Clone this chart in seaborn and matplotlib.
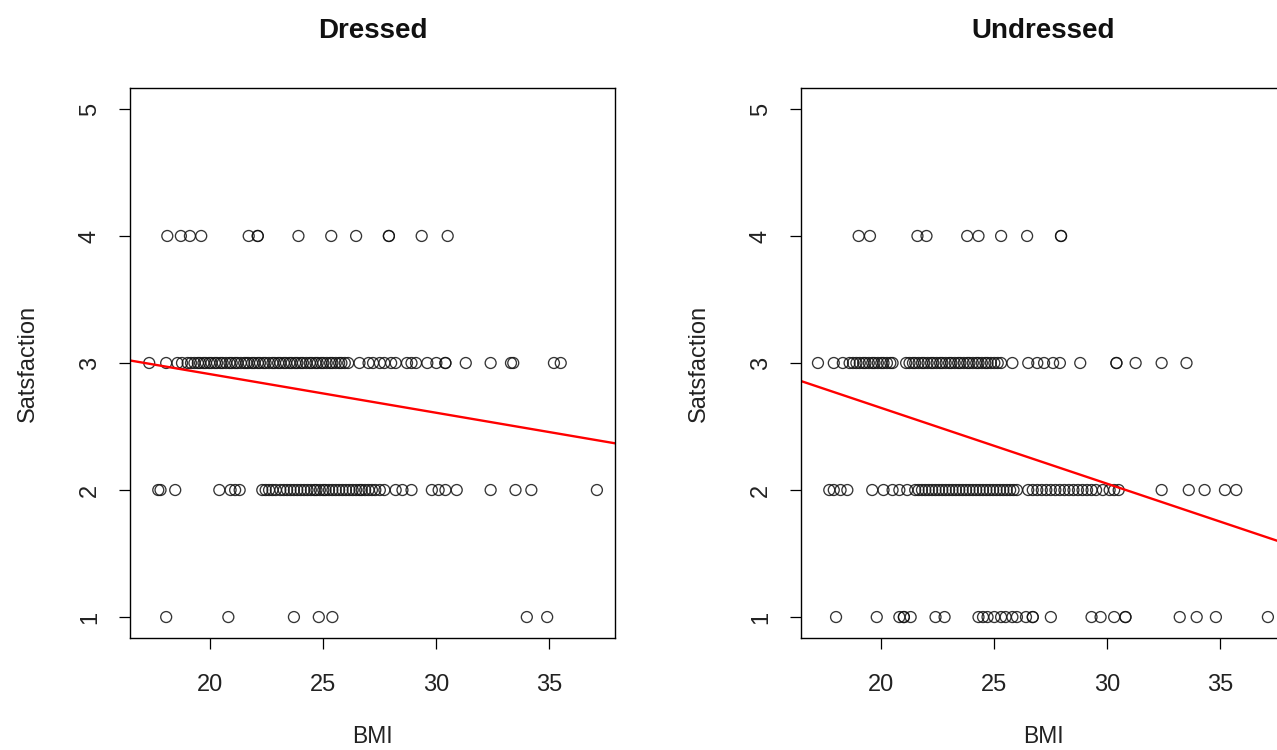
import matplotlib
matplotlib.use("Agg")
import matplotlib.pyplot as plt
import seaborn as sns
import pandas as pd

# ---------------- data ----------------
dressed_s4 = [18.1, 18.7, 19.1, 19.6, 21.7, 22.1, 22.1, 23.9, 25.35, 26.45, 27.9, 27.9, 29.35, 30.5]
dressed_s3 = [17.3, 18.05, 18.55, 18.75, 19.0, 19.15, 19.3, 19.45, 19.55, 19.7, 19.8, 19.95, 20.05,
              20.2, 20.3, 20.45, 20.55, 20.7, 20.85, 20.95, 21.1, 21.2, 21.35, 21.5, 21.6, 21.7,
              21.85, 21.95, 22.1, 22.2, 22.35, 22.45, 22.6, 22.75, 22.85, 23.0, 23.1, 23.25, 23.35,
              23.5, 23.6, 23.75, 23.85, 24.0, 24.1, 24.25, 24.4, 24.5, 24.65, 24.75, 24.9, 25.0,
              25.15, 25.3, 25.4, 25.55, 25.7, 25.8, 25.95, 26.1, 26.6, 27.0, 27.2, 27.5, 27.7, 28.0,
              28.2, 28.7, 28.9, 29.1, 29.6, 30.0, 30.4, 30.4, 31.3, 32.4, 33.3, 33.4, 35.2, 35.5]
dressed_s2 = [17.7, 17.8, 18.45, 20.4, 20.9, 21.1, 21.3, 22.3, 22.45, 22.6, 22.75, 22.9, 23.1,
              23.25, 23.4, 23.55, 23.7, 23.85, 24.0, 24.15, 24.3, 24.45, 24.6, 24.7, 24.85, 25.0,
              25.1, 25.25, 25.4, 25.55, 25.7, 25.85, 26.0, 26.15, 26.3, 26.45, 26.6, 26.7, 26.85,
              27.0, 27.15, 27.3, 27.5, 27.7, 28.2, 28.5, 28.9, 29.8, 30.1, 30.4, 30.9, 32.4, 33.5,
              34.2, 37.1]
dressed_s1 = [18.05, 20.8, 23.7, 24.8, 25.4, 34.0, 34.9]

undressed_s4 = [19.0, 19.5, 21.6, 22.0, 23.8, 24.3, 25.3, 26.45, 27.95, 27.95]
undressed_s3 = [17.2, 17.9, 18.3, 18.6, 18.75, 18.9, 19.05, 19.2, 19.3, 19.45, 19.6, 19.7, 19.85,
                20.0, 20.1, 20.25, 20.4, 20.5, 21.1, 21.25, 21.4, 21.5, 21.65, 21.8, 21.9, 22.05,
                22.2, 22.3, 22.45, 22.6, 22.7, 22.85, 23.0, 23.1, 23.25, 23.4, 23.5, 23.65, 23.8,
                23.9, 24.05, 24.2, 24.3, 24.45, 24.6, 24.7, 24.85, 25.0, 25.15, 25.3, 25.8, 26.5,
                26.9, 27.2, 27.6, 27.9, 28.8, 30.4, 30.4, 31.25, 32.4, 33.5]
undressed_s2 = [17.7, 17.9, 18.2, 18.5, 19.6, 20.1, 20.5, 20.8, 21.15, 21.5, 21.65, 21.8, 21.95,
                22.1, 22.25, 22.4, 22.55, 22.7, 22.85, 23.0, 23.15, 23.3, 23.45, 23.6, 23.75, 23.9,
                24.05, 24.2, 24.35, 24.5, 24.65, 24.8, 24.95, 25.1, 25.25, 25.4, 25.55, 25.7, 25.85,
                26.0, 26.5, 26.7, 26.9, 27.1, 27.3, 27.5, 27.7, 27.9, 28.1, 28.3, 28.5, 28.7, 28.9,
                29.1, 29.3, 29.5, 29.8, 30.1, 30.3, 30.5, 32.4, 33.6, 34.3, 35.2, 35.7]
undressed_s1 = [18.0, 19.8, 20.8, 21.0, 21.0, 21.3, 22.4, 22.8, 24.3, 24.5, 24.7, 25.0, 25.3, 25.5,
                25.8, 26.0, 26.4, 26.7, 26.7, 27.5, 29.3, 29.7, 30.3, 30.8, 30.8, 33.2, 33.95, 34.8,
                37.1]

# fitted lines (intercept, slope)
dressed_fit = (3.52, -0.0304)
undressed_fit = (3.84, -0.0597)

panel_titles = ["Dressed", "Undressed"]
x_ticks = [20, 25, 30, 35]
y_ticks = [1, 2, 3, 4, 5]


def make_df(s1, s2, s3, s4):
    rows = []
    for val, lst in [(1, s1), (2, s2), (3, s3), (4, s4)]:
        for b in lst:
            rows.append((b, val))
    return pd.DataFrame(rows, columns=["BMI", "Satisfaction"])


dfs = [make_df(dressed_s1, dressed_s2, dressed_s3, dressed_s4),
       make_df(undressed_s1, undressed_s2, undressed_s3, undressed_s4)]
fits = [dressed_fit, undressed_fit]

# ---------------- plot ----------------
sns.set_theme(style="white")
plt.rcParams["font.family"] = ["Liberation Sans", "DejaVu Sans"]

W, H = 1277, 750
fig = plt.figure(figsize=(W / 100, H / 100), dpi=100)
boxes = [(130, 88, 485, 550), (801, 88, 485, 550)]

for i, (df, fit, title) in enumerate(zip(dfs, fits, panel_titles)):
    x0, y0, w, h = boxes[i]
    ax = fig.add_axes([x0 / W, 1 - (y0 + h) / H, w / W, h / H])
    sns.scatterplot(data=df, x="BMI", y="Satisfaction", ax=ax, marker="o",
                    facecolors="none", edgecolor="#111111", linewidth=0.95, s=62,
                    alpha=0.85, legend=False)
    ax.set_xlim(16.45, 37.9)
    ax.set_ylim(0.835, 5.165)
    ax.axline((0, fit[0]), slope=fit[1], color="#ff0000", linewidth=1.7)
    ax.set_xticks(x_ticks)
    ax.set_yticks(y_ticks)
    ax.set_yticklabels([str(v) for v in y_ticks], rotation=90, va="center")
    ax.tick_params(axis="both", which="major", direction="out", length=8, width=0.9,
                   color="black", labelsize=17, labelcolor="#222222",
                   bottom=True, left=True)
    ax.tick_params(axis="x", pad=18)
    ax.tick_params(axis="y", pad=13)
    for sp in ax.spines.values():
        sp.set_color("black")
        sp.set_linewidth(1.0)
    ax.set_xlabel("BMI", fontsize=16.5, labelpad=21, color="#222222")
    ax.set_ylabel("Satsfaction", fontsize=17, labelpad=29, color="#222222")
    ax.set_title(title, fontsize=20, fontweight="bold", pad=36, color="#111111")

fig.savefig("out.png", dpi=100)
